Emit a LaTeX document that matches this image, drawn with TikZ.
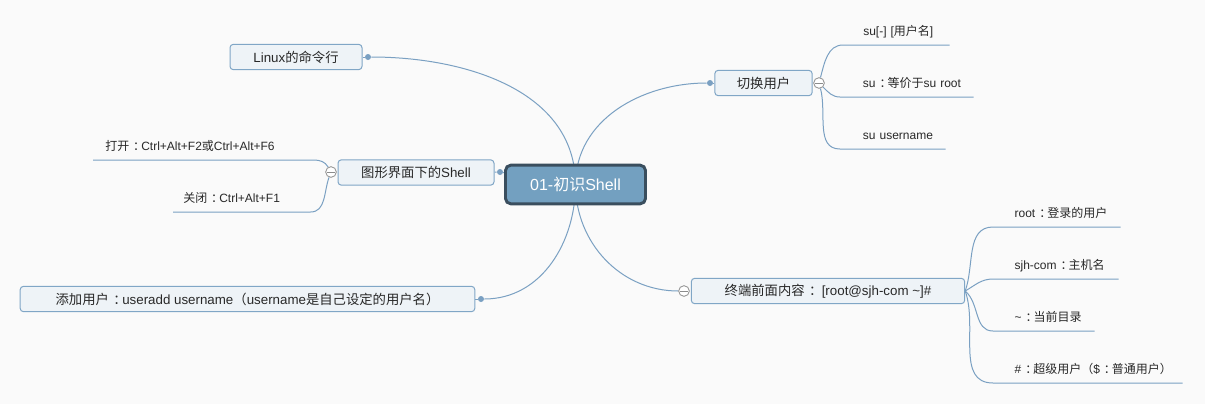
\documentclass[tikz,border=0pt]{standalone}
\usepackage{fontspec}
\setmainfont{Liberation Sans}
\newfontfamily\cjkfont{Noto Sans CJK SC}
\newcommand\zh[1]{{\cjkfont #1}}
\newcommand\zcolon{{\cjkfont\hspace*{0.33em}\makebox[0.67em][l]{：}}}
\usepackage{xcolor}
\usepackage{tikz}
\usetikzlibrary{shapes.geometric, arrows, positioning, calc}

\pgfdeclarelayer{back}
\pgfsetlayers{back,main}

\definecolor{paper}{RGB}{250,250,250}
\definecolor{linkblue}{RGB}{122,160,194}
\definecolor{boxfill}{RGB}{238,243,247}
\definecolor{boxline}{RGB}{128,166,198}
\definecolor{rootfill}{RGB}{115,160,192}
\definecolor{rootline}{RGB}{58,78,94}
\definecolor{foldgray}{RGB}{140,140,140}
\definecolor{textdark}{RGB}{40,40,40}

\begin{document}
\begin{tikzpicture}[x=0.75pt, y=0.75pt]
    \tikzstyle{topic} = [rectangle, draw=boxline, fill=boxfill, line width=0.75pt, rounded corners=2.5pt, minimum height=19pt, text=textdark, font=\fontsize{10}{12}\selectfont]
    \tikzstyle{center} = [rectangle, draw=rootline, fill=rootfill, line width=2.2pt, rounded corners=4pt, minimum width=105pt, minimum height=29pt, text=white, font=\fontsize{12}{14}\selectfont]
    \tikzstyle{dot} = [circle, fill=linkblue, inner sep=0pt, minimum size=4.5pt]
    \tikzstyle{fold} = [circle, draw=foldgray, fill=white, line width=0.6pt, inner sep=0pt, minimum size=8pt, path picture={\draw[foldgray, line width=0.6pt] ([xshift=1.3pt]path picture bounding box.west) -- ([xshift=-1.3pt]path picture bounding box.east);}]
    \tikzstyle{leaf} = [anchor=south west, inner xsep=0pt, inner ysep=4.5pt, align=left, text height=9pt, text depth=2.5pt, text=textdark, font=\fontsize{9}{11}\selectfont]
    \tikzstyle{link} = [draw=linkblue, line width=0.75pt]

    \useasboundingbox (0,0) rectangle (1205,-404);

    % Center
    \node[center] (c) at (575.5,-184.5) {01-\zh{初识}Shell};

    % Topics
    \node[topic, minimum width=99pt] (linux) at (296,-57) {Linux\zh{的命令行}};
    \node[topic, minimum width=73pt] (switch) at (763.5,-83) {\zh{切换用户}};
    \node[topic, minimum width=117pt] (gui) at (416,-172.5) {\zh{图形界面下的}Shell};
    \node[topic, minimum width=341pt] (adduser) at (247.5,-299) {\zh{添加用户}\zcolon useradd username\zh{（}username\zh{是自己设定的用户名）}};
    \node[topic, minimum width=205pt] (prompt) at (828,-291) {\zh{终端前面内容}\zcolon{} [root@sjh-com \textasciitilde]\#};

    % Dots and fold marks
    \node[dot] (d1) at (368,-57) {};
    \node[dot] (d2) at (710,-83) {};
    \node[dot] (d3) at (500,-172) {};
    \node[dot] (d4) at (481,-299) {};
    \node[fold] (f2) at (819,-83) {};
    \node[fold] (f3) at (331,-172) {};
    \node[fold] (f5) at (684,-291) {};

    % Leaves of 切换用户
    \node[leaf, text width=79.5pt] (s1) at (843,-45) {\hspace*{15pt}su[-] [\zh{用户名}]};
    \node[leaf, text width=99.75pt] (s2) at (840,-97) {\hspace*{17pt}su\zcolon\zh{等价于}su root};
    \node[leaf, text width=78.75pt] (s3) at (840,-149) {\hspace*{17pt}su username};

    % Leaves of 图形界面下的Shell
    \node[leaf, text width=165pt] (g1) at (93,-160) {\hspace*{9pt}\zh{打开}\zcolon Ctrl+Alt+F2\zh{或}Ctrl+Alt+F6};
    \node[leaf, text width=102.75pt] (g2) at (173,-212) {\hspace*{7.5pt}\zh{关闭}\zcolon Ctrl+Alt+F1};

    % Leaves of 终端前面内容
    \node[leaf, text width=95.25pt] (p1) at (993,-227) {\hspace*{16pt}root\zcolon\zh{登录的用户}};
    \node[leaf, text width=93.75pt] (p2) at (993,-279) {\hspace*{16pt}sjh-com\zcolon\zh{主机名}};
    \node[leaf, text width=75.75pt] (p3) at (993,-331) {\hspace*{16pt}\textasciitilde\zcolon\zh{当前目录}};
    \node[leaf, text width=141.75pt] (p4) at (993,-383) {\hspace*{16pt}\#\zcolon\zh{超级用户（}\$\zcolon\zh{普通用户）}};

    \begin{pgfonlayer}{back}
        \fill[paper] (0,0) rectangle (1205,-404);

        \draw[link] (c.center) to[out=90, in=0] (d1);
        \draw[link] (c.center) to[out=90, in=180] (d2);
        \draw[link] (c) -- (d3);
        \draw[link] (c.center) to[out=-90, in=0] (d4);
        \draw[link] (c.center) to[out=-90, in=180] (f5);
        \draw[link] (linux) -- (d1);
        \draw[link] (switch) -- (d2);
        \draw[link] (gui) -- (d3);
        \draw[link] (adduser) -- (d4);

        \draw[link] (f2) to[out=75, in=180] (s1.south west) -- (s1.south east);
        \draw[link] (f2) to[out=-45, in=180] (s2.south west) -- (s2.south east);
        \draw[link] (f2) to[out=-75, in=180] (s3.south west) -- (s3.south east);

        \draw[link] (f3) to[out=120, in=0] (g1.south east) -- (g1.south west);
        \draw[link] (f3) to[out=-110, in=0] (g2.south east) -- (g2.south west);

        \draw[link] (prompt.east) to[out=70, in=180] (p1.south west) -- (p1.south east);
        \draw[link] (prompt.east) to[out=30, in=180] (p2.south west) -- (p2.south east);
        \draw[link] (prompt.east) to[out=-40, in=180] (p3.south west) -- (p3.south east);
        \draw[link] (prompt.east) to[out=-70, in=180] (p4.south west) -- (p4.south east);
    \end{pgfonlayer}
\end{tikzpicture}
\end{document}
